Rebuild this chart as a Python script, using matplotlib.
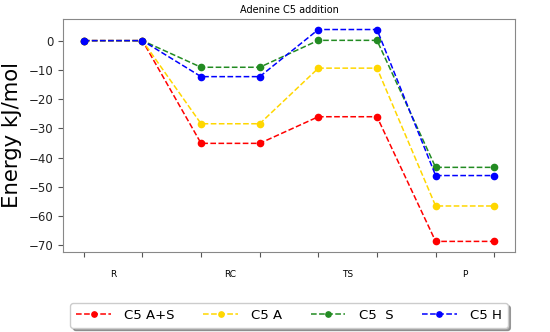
import matplotlib
matplotlib.use("Agg")
import matplotlib.pyplot as plt
import numpy as np

# reaction states, each drawn as a plateau of two points
states = ["R", "RC", "TS", "P"]
labels = ["C5 A+S", "C5 A", "C5  S", "C5 H"]
colors = ["red", "gold", "forestgreen", "blue"]

energy_AS = [0, -35.1, -26.0, -68.6]
energy_A = [0, -28.4, -9.4, -56.5]
energy_S = [0, -9.1, 0.1, -43.3]
energy_H = [0, -12.3, 3.8, -46.1]

series = [energy_AS, energy_A, energy_S, energy_H]

x = np.arange(2 * len(states))

fig = plt.figure(figsize=(5.5, 3.32), dpi=100)
ax = fig.add_axes([0.115, 0.241, 0.821, 0.702])

for vals, lab, col in zip(series, labels, colors):
    y = np.repeat(vals, 2)
    ax.plot(x, y, "o--", color=col, label=lab, markersize=4.5, linewidth=1.1)

ax.set_xticks(x)
ax.set_xticklabels([])
ax.set_xticks(x[::2] + 0.5, minor=True)
ax.set_xticklabels(states, minor=True, fontsize=6.5)
ax.tick_params(axis="x", which="minor", length=0, pad=13)
ax.tick_params(axis="x", which="major", length=3.5, color="#555555")
ax.tick_params(axis="y", labelsize=8.5, length=3.5, colors="#555555",
               labelcolor="#222222")

for sp in ax.spines.values():
    sp.set_color("#888888")

ax.set_title("Adenine C5 addition", fontsize=7, pad=4)
ax.set_ylabel("Energy kJ/mol", fontsize=15.3, labelpad=5)

ax.legend(loc="upper center", bbox_to_anchor=(0.5, -0.19), ncol=4,
          fontsize=9.5, handlelength=2.6, handletextpad=1.0, markerscale=0.85,
          shadow=True, fancybox=True, columnspacing=2.2, borderpad=0.45)

fig.savefig("out.png", dpi=100)
